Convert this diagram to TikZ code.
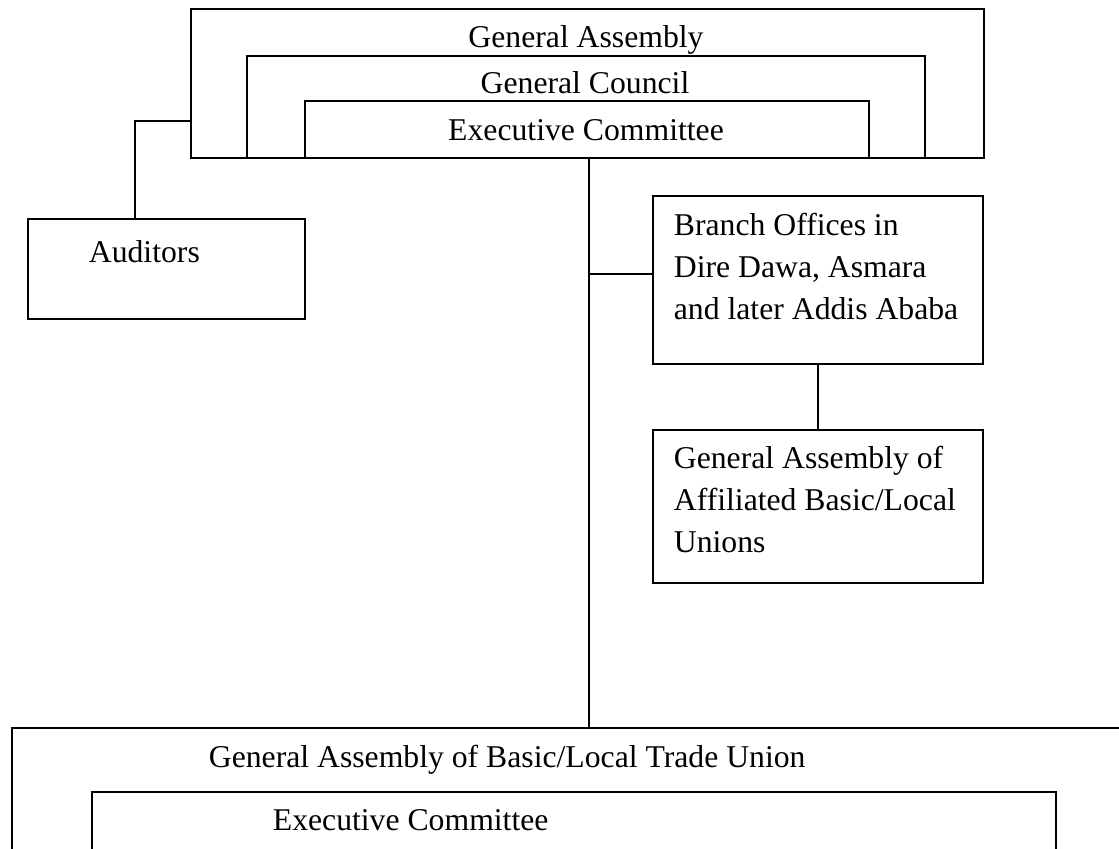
\documentclass[tikz,border=0pt]{standalone}
\usepackage{fontspec}
\setmainfont{Liberation Serif}
\begin{document}
\begin{tikzpicture}[x=0.5pt,y=-0.5pt,line width=0.9pt,
    orgbox/.style={draw,rectangle,anchor=north west,inner sep=0pt},
    orgtext/.style={inner sep=0pt,font=\fontsize{15.85}{21}\selectfont}]
        \useasboundingbox (0,0) rectangle (1119,848);
        \clip (0,0) rectangle (1119,848);
        %% nested top boxes
        \node[orgbox,minimum width=396.5pt,minimum height=74.5pt] (ga) at (190,8) {};
        \node[orgbox,minimum width=339pt,minimum height=51pt] (gc) at (246,55) {};
        \node[orgbox,minimum width=282pt,minimum height=28.5pt] (ec) at (304,100) {};
        \node[orgtext,anchor=base] (gatxt) at (586,47) {General Assembly};
        \node[orgtext,anchor=base] (gctxt) at (585,93) {General Council};
        \node[orgtext,anchor=base] (ectxt) at (586,140) {Executive Committee};
        %% side boxes
        \node[orgbox,minimum width=138.5pt,minimum height=50pt] (auditors) at (27,218) {};
        \node[orgtext,anchor=base west] (audtxt) at (88,262) {Auditors};
        \node[orgbox,minimum width=165pt,minimum height=84pt] (branch) at (652,195) {};
        \node[orgtext,anchor=base west] (branchtxt) at (673,235)
            {\parbox[t]{160pt}{Branch Offices in\\Dire Dawa, Asmara\\and later Addis Ababa}};
        \node[orgbox,minimum width=165pt,minimum height=76.5pt] (gaaff) at (652,429) {};
        \node[orgtext,anchor=base west] (gaafftxt) at (673,468)
            {\parbox[t]{160pt}{General Assembly of\\Affiliated Basic/Local\\Unions}};
        %% bottom boxes (cut by the page)
        \node[orgbox,minimum width=564.5pt,minimum height=75pt] (gabasic) at (11,727) {};
        \node[orgtext,anchor=base west] (gabtxt) at (208,767) {General Assembly of Basic/Local Trade Union};
        \node[orgbox,minimum width=482pt,minimum height=50pt] (ecbasic) at (91,791) {};
        \node[orgtext,anchor=base west] (ecbtxt) at (272,830) {Executive Committee};
        %% connectors
        \coordinate (audjoin) at (135,121);
        \draw (audjoin -| ga.west) -- (audjoin) -- (audjoin |- auditors.north);
        \coordinate (trunk) at (589,157);
        \draw (trunk) -- (trunk |- gabasic.north);
        \coordinate (branchjoin) at (589,274);
        \draw (branchjoin) -- (branchjoin -| branch.west);
        \draw (branch.south) -- (gaaff.north);
    \end{tikzpicture}
\end{document}
